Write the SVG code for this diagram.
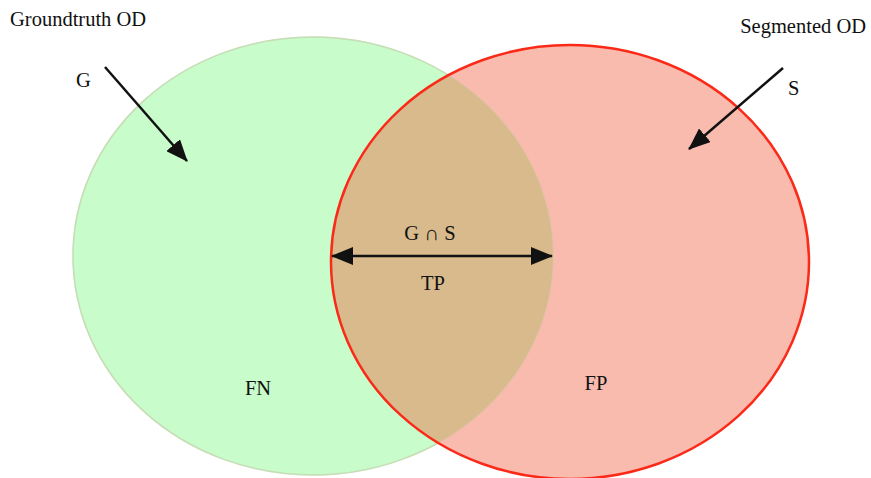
<svg xmlns="http://www.w3.org/2000/svg" width="871" height="478" viewBox="0 0 871 478">
<style>
text{font-family:"Liberation Serif","Times New Roman",serif;font-size:20.5px;fill:#111}
.conn{stroke:#111;stroke-width:2.5;fill:none}
</style>
<defs>
<marker id="ah" markerWidth="22" markerHeight="18" refX="21" refY="9" orient="auto-start-reverse" markerUnits="userSpaceOnUse">
<path d="M0,0 L22,9 L0,18 Z" fill="#111"/>
</marker>
<clipPath id="gclip"><ellipse cx="313" cy="256" rx="240" ry="219"/></clipPath>
</defs>
<g id="groundtruth">
<ellipse cx="313" cy="256" rx="240" ry="219" fill="#c8fccb" stroke="#bdf6cf" stroke-width="1.5"/>
</g>
<g id="segmented">
<ellipse cx="570" cy="262" rx="239" ry="217" fill="#f9bbae"/>
</g>
<g id="intersection">
<ellipse cx="570" cy="262" rx="239" ry="217" fill="#d8ba8c" clip-path="url(#gclip)"/>
<ellipse cx="313" cy="256" rx="240" ry="219" fill="none" stroke="#d3c49c" stroke-width="1.5" opacity="0.5"/>
</g>
<g id="segmented-outline">
<ellipse cx="570" cy="262" rx="239" ry="217" fill="none" stroke="#fb2a18" stroke-width="2.5"/>
</g>
<g id="connectors">
<line class="conn" x1="105" y1="67" x2="187" y2="161" marker-end="url(#ah)"/>
<line class="conn" x1="783" y1="68" x2="689" y2="149" marker-end="url(#ah)"/>
<line class="conn" x1="332" y1="256" x2="552" y2="256" marker-start="url(#ah)" marker-end="url(#ah)"/>
</g>
<g id="labels">
<text x="10" y="26">Groundtruth OD</text>
<text x="76" y="87">G</text>
<text x="866" y="33" text-anchor="end">Segmented OD</text>
<text x="788" y="95">S</text>
<text x="430" y="240" text-anchor="middle">G ∩ S</text>
<text x="433" y="290" text-anchor="middle">TP</text>
<text x="258" y="395" text-anchor="middle">FN</text>
<text x="596" y="390" text-anchor="middle">FP</text>
</g>
</svg>
